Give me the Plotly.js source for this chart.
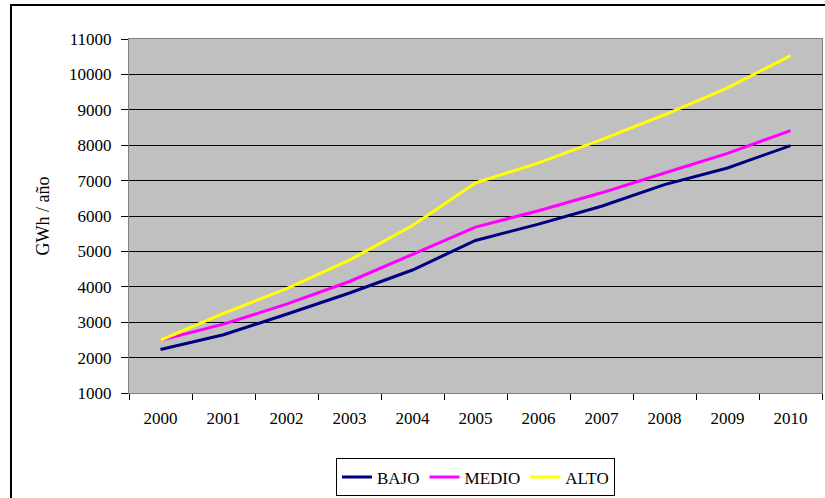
<!DOCTYPE html>
<html>
<head>
<meta charset="utf-8">
<script src="https://cdn.plot.ly/plotly-3.0.1.min.js"></script>
<style>
html,body{margin:0;padding:0;background:#fff;}
#chart{width:825px;height:498px;}
</style>
</head>
<body>
<div id="chart"></div>
<script>
const years = ['2000','2001','2002','2003','2004','2005','2006','2007','2008','2009','2010'];
const bajo  = [2230, 2645, 3225, 3825, 4475, 5310, 5770, 6275, 6885, 7355, 7990];
const medio = [2490, 2945, 3510, 4150, 4915, 5685, 6150, 6655, 7215, 7770, 8410];
const alto  = [2490, 3250, 3950, 4755, 5730, 6935, 7500, 8155, 8860, 9620, 10530];
const yTitle = 'GWh / año';

const FONT = '"Liberation Serif", "Times New Roman", serif';

const traces = [
  {x: years, y: bajo, name: 'BAJO', type: 'scatter', mode: 'lines', line: {color: '#000080', width: 3}},
  {x: years, y: medio, name: 'MEDIO', type: 'scatter', mode: 'lines', line: {color: '#FF00FF', width: 3}},
  {x: years, y: alto, name: 'ALTO', type: 'scatter', mode: 'lines', line: {color: '#FFFF00', width: 3}}
];

const layout = {
  width: 825, height: 498,
  margin: {l: 129, r: 3, t: 39, b: 104},
  paper_bgcolor: '#ffffff',
  plot_bgcolor: '#C0C0C0',
  font: {family: FONT, size: 17, color: '#000'},
  showlegend: true,
  legend: {
    orientation: 'h', x: 0.5, xanchor: 'center', y: -0.235, yanchor: 'middle',
    bordercolor: '#000', borderwidth: 1, bgcolor: '#fff',
    font: {family: FONT, size: 17, color: '#000'},
    itemwidth: 30, tracegroupgap: 0
  },
  xaxis: {
    type: 'category', range: [-0.5, 10.5], tickson: 'boundaries',
    ticks: 'outside', ticklen: 6, tickcolor: '#000', tickwidth: 1,
    showline: true, linecolor: '#808080', linewidth: 1, mirror: true,
    showgrid: false, zeroline: false, ticklabelstandoff: 10,
    tickfont: {family: FONT, size: 17, color: '#000'}, fixedrange: true
  },
  yaxis: {
    range: [1000, 11000], dtick: 1000, tick0: 1000, tickformat: 'd',
    ticks: 'outside', ticklen: 7, tickcolor: '#000', tickwidth: 1,
    showline: true, linecolor: '#808080', linewidth: 1, mirror: true,
    showgrid: true, gridcolor: '#000', gridwidth: 1, zeroline: false,
    ticklabelstandoff: 6,
    tickfont: {family: FONT, size: 17, color: '#000'},
    title: {text: yTitle, standoff: 14, font: {family: FONT, size: 18, color: '#000'}},
    fixedrange: true
  },
  shapes: [{
    type: 'rect', xref: 'paper', yref: 'paper',
    x0: -0.1703, x1: 1.0115, y0: -0.3127, y1: 1.0958,
    line: {color: '#000', width: 2}, fillcolor: 'rgba(0,0,0,0)', layer: 'above'
  }]
};

Plotly.newPlot('chart', traces, layout, {staticPlot: true, displayModeBar: false});
</script>
</body>
</html>
